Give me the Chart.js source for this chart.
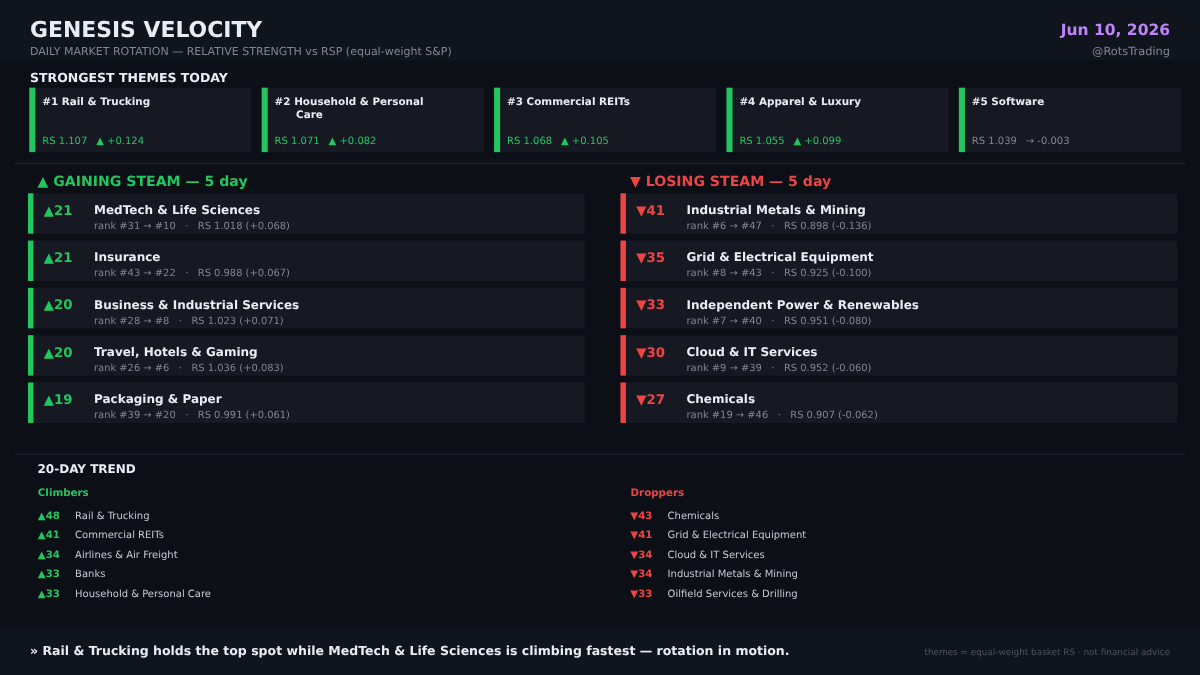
<!DOCTYPE html>
<html>
<head>
<meta charset="utf-8">
<title>Genesis Velocity</title>
<script src="https://cdn.jsdelivr.net/npm/chart.js@4"></script>
<style>
	html, body { margin: 0; padding: 0; background: #0c0f16; }
	canvas { display: block; }
</style>
</head>
<body>
<canvas id="board" width="1200" height="675"></canvas>
<script>
// 오늘의 데이터
const topThemes = [["#1 Rail & Trucking"], ["#2 Household & Personal", "Care"], ["#3 Commercial REITs"], ["#4 Apparel & Luxury"], ["#5 Software"]];
const topRs = [1.107, 1.071, 1.068, 1.055, 1.039];
const topDelta = [0.124, 0.082, 0.105, 0.099, -0.003];

const gainNames = ["MedTech & Life Sciences", "Insurance", "Business & Industrial Services", "Travel, Hotels & Gaming", "Packaging & Paper"];
const gainMoves = [21, 21, 20, 20, 19];
const gainFrom = [31, 43, 28, 26, 39];
const gainTo = [10, 22, 8, 6, 20];
const gainRs = [1.018, 0.988, 1.023, 1.036, 0.991];
const gainDelta = [0.068, 0.067, 0.071, 0.083, 0.061];

const loseNames = ["Industrial Metals & Mining", "Grid & Electrical Equipment", "Independent Power & Renewables", "Cloud & IT Services", "Chemicals"];
const loseMoves = [41, 35, 33, 30, 27];
const loseFrom = [6, 8, 7, 9, 19];
const loseTo = [47, 43, 40, 39, 46];
const loseRs = [0.898, 0.925, 0.951, 0.952, 0.907];
const loseDelta = [-0.136, -0.100, -0.080, -0.060, -0.062];

const climbNames = ["Rail & Trucking", "Commercial REITs", "Airlines & Air Freight", "Banks", "Household & Personal Care"];
const climbMoves = [48, 41, 34, 33, 33];
const dropNames = ["Chemicals", "Grid & Electrical Equipment", "Cloud & IT Services", "Industrial Metals & Mining", "Oilfield Services & Drilling"];
const dropMoves = [43, 41, 34, 34, 33];

// 색상
const GREEN = "#22c55e", RED = "#ef4444", PURPLE = "#c084fc";
const WHITE = "#e8ecf4", MUTED = "#80858f", SOFT = "#c6cad2", DIM = "#4d525c";
const BAND = "#10141c", CARD = "#161922", LINE = "#1e222b";
const FONT = '"DejaVu Sans"';

// 배치
const cardX = topThemes.map((t, i) => 29.6 + 232.4 * i);
const rowY = gainNames.map((t, i) => 193.6 + 47.3 * i);
const COL_X = [28.3, 620.8];
const sign = (v) => (v >= 0 ? "+" : "-") + Math.abs(v).toFixed(3);

function span(x0, x1, y0, y1) {
	return { x: (x0 + x1) / 2, y: [y0, y1] };
}

function barSet(points, thickness, color) {
	return { data: points, barThickness: thickness, backgroundColor: color, borderWidth: 0, grouped: false };
}

const rowPanels = [], rowGreen = [], rowRed = [];
rowY.forEach((y) => {
	COL_X.forEach((x) => rowPanels.push(span(x, x + 556, y, y + 39.8)));
	rowGreen.push(span(COL_X[0], COL_X[0] + 4.8, y, y + 39.8));
	rowRed.push(span(COL_X[1], COL_X[1] + 4.8, y, y + 39.8));
});

// 글자는 스케일을 거쳐서 찍는다
const textPlugin = {
	id: "boardText",
	afterDatasetsDraw(chart) {
		const ctx = chart.ctx, sx = chart.scales.x, sy = chart.scales.y;
		const put = (s, x, y, font, color, align) => {
			ctx.font = font + " " + FONT;
			ctx.fillStyle = color;
			ctx.textAlign = align || "left";
			ctx.textBaseline = "alphabetic";
			ctx.fillText(s, sx.getPixelForValue(x), sy.getPixelForValue(y));
		};
		ctx.save();
		ctx.textRendering = "geometricPrecision";

		put("GENESIS VELOCITY", 30, 37, "bold 21.9px", WHITE);
		put("DAILY MARKET ROTATION — RELATIVE STRENGTH vs RSP (equal-weight S&P)", 30, 55, "11px", MUTED);
		put("Jun 10, 2026", 1170, 35, "bold 15.5px", PURPLE, "right");
		put("@RotsTrading", 1170, 55, "11.4px", MUTED, "right");

		put("STRONGEST THEMES TODAY", 30, 81.5, "bold 12.5px", WHITE);
		topThemes.forEach((lines, i) => {
			const x = cardX[i] + 12.6;
			put(lines[0], x, 105, "bold 10.4px", WHITE);
			if (lines[1]) put(lines[1], x + 21.5, 118, "bold 10.4px", WHITE);
			const flat = Math.abs(topDelta[i]) < 0.01;
			const tone = flat ? MUTED : GREEN;
			put("RS " + topRs[i].toFixed(3), x, 143.5, "10px", tone);
			put((flat ? "→ " : "▲ ") + sign(topDelta[i]), x + 54, 143.5, "10px", tone);
		});

		put("▲ GAINING STEAM — 5 day", 37.5, 186, "bold 14.1px", GREEN);
		put("▼ LOSING STEAM — 5 day", 630, 186, "bold 14.1px", RED);
		const rows = (names, moves, from, to, rs, delta, x, mark, color) => {
			names.forEach((name, i) => {
				const y = rowY[i];
				put(mark + moves[i], x + 15.5, y + 21.2, "bold 13.3px", color);
				put(name, x + 65.7, y + 20.4, "bold 12px", WHITE);
				put("rank #" + from[i] + " → #" + to[i] + "   ·   RS " + rs[i].toFixed(3) + " (" + sign(delta[i]) + ")", x + 65.7, y + 35.5, "9.92px", MUTED);
			});
		};
		rows(gainNames, gainMoves, gainFrom, gainTo, gainRs, gainDelta, COL_X[0], "▲", GREEN);
		rows(loseNames, loseMoves, loseFrom, loseTo, loseRs, loseDelta, COL_X[1], "▼", RED);

		put("20-DAY TREND", 37.5, 472.5, "bold 12px", WHITE);
		put("Climbers", 37.8, 496, "bold 10.3px", GREEN);
		put("Droppers", 630.5, 496, "bold 10.3px", RED);
		const list = (names, moves, x, mark, color) => {
			names.forEach((name, i) => {
				const y = 518.9 + 19.5 * i;
				put(mark + moves[i], x, y, "bold 10.2px", color);
				put(name, x + 37.3, y, "10px", SOFT);
			});
		};
		list(climbNames, climbMoves, 37.8, "▲", GREEN);
		list(dropNames, dropMoves, 630.3, "▼", RED);

		put("» Rail & Trucking holds the top spot while MedTech & Life Sciences is climbing fastest — rotation in motion.", 30, 655, "bold 12.5px", WHITE);
		put("themes = equal-weight basket RS · not financial advice", 1170, 655, "8.85px", DIM, "right");
		ctx.restore();
	}
};

new Chart(document.getElementById("board").getContext("2d"), {
	type: "bar",
	data: {
		// 먼저 넣은 것이 위에 그려진다
		datasets: [
			barSet(cardX.map((x) => span(x, x + 5.4, 88, 151.8)), 5.4, GREEN),
			barSet(cardX.map((x) => span(x, x + 221.5, 88, 151.8)), 221.5, CARD),
			barSet(rowGreen, 4.8, GREEN),
			barSet(rowRed, 4.8, RED),
			barSet(rowPanels, 556, CARD),
			barSet([span(15, 1185, 163, 164), span(15, 1185, 453.5, 454.5)], 1170, LINE),
			barSet([span(0, 1200, 0, 60), span(0, 1200, 628.5, 675)], 1200, BAND)
		]
	},
	options: {
		responsive: false,
		animation: false,
		events: [],
		layout: { padding: 0 },
		plugins: { legend: { display: false }, tooltip: { enabled: false } },
		scales: {
			x: { type: "linear", min: 0, max: 1200, offset: false, display: false },
			y: { type: "linear", min: 0, max: 675, reverse: true, display: false, beginAtZero: false }
		}
	},
	plugins: [textPlugin]
});
</script>
</body>
</html>
